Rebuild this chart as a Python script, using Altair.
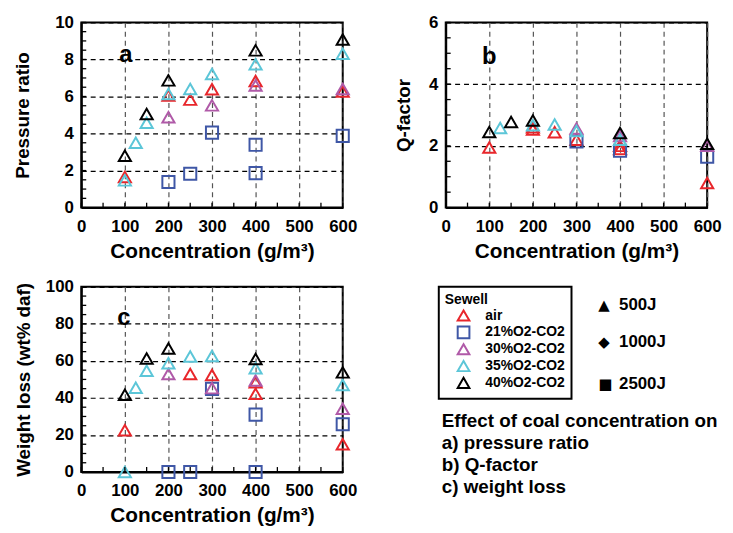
import altair as alt
import pandas as pd

FONT = "Liberation Sans"

SERIES = ["air", "21%O2-CO2", "30%O2-CO2", "35%O2-CO2", "40%O2-CO2"]
COLORS = ["#e8262b", "#3f57a6", "#b05aa8", "#5cc6d8", "#000000"]
SHAPES = ["triangle-up", "square", "triangle-up", "triangle-up", "triangle-up"]

X_LABELS = [0, 100, 200, 300, 400, 500, 600]
X_TICKS = [0, 50, 100, 150, 200, 250, 300, 350, 400, 450, 500, 550, 600]
X_TITLE = "Concentration (g/m³)"

# ---- panel a: pressure ratio ----
A_AIR_X = [100, 200, 250, 300, 400, 600]
A_AIR_Y = [1.65, 6.05, 5.83, 6.39, 6.84, 6.27]
A_21_X = [200, 250, 300, 400, 400, 600]
A_21_Y = [1.38, 1.83, 4.05, 3.39, 1.86, 3.87]
A_30_X = [200, 300, 400, 600]
A_30_Y = [4.88, 5.52, 6.59, 6.41]
A_35_X = [100, 125, 150, 200, 250, 300, 400, 600]
A_35_Y = [1.47, 3.5, 4.58, 6.13, 6.41, 7.21, 7.74, 8.31]
A_40_X = [100, 150, 200, 400, 600]
A_40_Y = [2.8, 5.06, 6.87, 8.49, 9.08]
A_Y_LABELS = [0, 2, 4, 6, 8, 10]
A_Y_TICKS = [0, 0.5, 1, 1.5, 2, 2.5, 3, 3.5, 4, 4.5, 5, 5.5, 6, 6.5, 7, 7.5, 8, 8.5, 9, 9.5, 10]

# ---- panel b: Q-factor ----
B_AIR_X = [100, 200, 200, 250, 300, 400, 400, 600]
B_AIR_Y = [1.95, 2.53, 2.6, 2.44, 2.2, 2.0, 1.9, 0.8]
B_21_X = [300, 400, 600]
B_21_Y = [2.14, 1.84, 1.65]
B_30_X = [300, 400, 600]
B_30_Y = [2.56, 2.32, 2.0]
B_35_X = [125, 200, 250, 300, 400]
B_35_Y = [2.58, 2.67, 2.69, 2.48, 2.2]
B_40_X = [100, 150, 200, 400, 600]
B_40_Y = [2.45, 2.77, 2.82, 2.42, 2.07]
B_Y_LABELS = [0, 2, 4, 6]
B_Y_TICKS = [0, 0.5, 1, 1.5, 2, 2.5, 3, 3.5, 4, 4.5, 5, 5.5, 6]

# ---- panel c: weight loss ----
C_AIR_X = [100, 250, 300, 400, 400, 600]
C_AIR_Y = [22.6, 52.9, 52.4, 48.5, 42.2, 15.0]
C_21_X = [200, 250, 300, 400, 400, 600]
C_21_Y = [0, 0, 44.9, 31.0, 0, 25.8]
C_30_X = [200, 300, 400, 600]
C_30_Y = [52.9, 45.3, 49.4, 34.2]
C_35_X = [100, 125, 150, 200, 250, 300, 400, 600]
C_35_Y = [0, 45.5, 54.7, 58.7, 62.4, 62.7, 56.0, 47.0]
C_40_X = [100, 150, 200, 400, 600]
C_40_Y = [41.7, 61.3, 66.7, 61.0, 53.8]
C_Y_LABELS = [0, 20, 40, 60, 80, 100]
C_Y_TICKS = [0, 5, 10, 15, 20, 25, 30, 35, 40, 45, 50, 55, 60, 65, 70, 75, 80, 85, 90, 95, 100]

ENERGY_SYMBOLS = ["▲", "◆", "■"]
ENERGY_LABELS = ["500J", "1000J", "2500J"]
ENERGY_ROWS_Y = [18, 56, 98]
NOTE_LINES = ["Effect of coal concentration on", "a) pressure ratio", "b) Q-factor", "c) weight loss"]

W, H = 264, 187


def frame(parts):
    rows = []
    for name, xs, ys in parts:
        for xv, yv in zip(xs, ys):
            rows.append({"series": name, "conc": xv, "val": yv})
    return pd.DataFrame(rows)


DF_A = frame([(SERIES[0], A_AIR_X, A_AIR_Y), (SERIES[1], A_21_X, A_21_Y), (SERIES[2], A_30_X, A_30_Y),
              (SERIES[3], A_35_X, A_35_Y), (SERIES[4], A_40_X, A_40_Y)])
DF_B = frame([(SERIES[0], B_AIR_X, B_AIR_Y), (SERIES[1], B_21_X, B_21_Y), (SERIES[2], B_30_X, B_30_Y),
              (SERIES[3], B_35_X, B_35_Y), (SERIES[4], B_40_X, B_40_Y)])
DF_C = frame([(SERIES[0], C_AIR_X, C_AIR_Y), (SERIES[1], C_21_X, C_21_Y), (SERIES[2], C_30_X, C_30_Y),
              (SERIES[3], C_35_X, C_35_Y), (SERIES[4], C_40_X, C_40_Y)])

LEGEND = alt.Legend(
    title="Sewell", orient="none", legendX=361, legendY=267,
    strokeColor="black", padding=6, fillColor="white",
    titleFontSize=14, titleFontWeight="bold", titleFont=FONT, titleColor="black", titlePadding=2,
    labelFontSize=14, labelFontWeight="bold", labelFont=FONT, labelColor="black",
    labelOffset=15, symbolOffset=12, symbolSize=140, symbolStrokeWidth=2, rowPadding=-3,
)


def panel(df, ydom, ylabels, yticks, ytitle, tpad, letter, lx, ly):
    xs = alt.Scale(domain=[0, 600], nice=False, zero=False)
    ys = alt.Scale(domain=ydom, nice=False, zero=False)
    xax = alt.Axis(values=X_LABELS, title=X_TITLE, format="d")
    yax = alt.Axis(values=ylabels, title=ytitle, titlePadding=tpad, format="d")
    pts = alt.Chart(df).mark_point(filled=False, size=150, strokeWidth=2, opacity=1).encode(
        x=alt.X("conc:Q", scale=xs, axis=xax),
        y=alt.Y("val:Q", scale=ys, axis=yax),
        color=alt.Color("series:N", scale=alt.Scale(domain=SERIES, range=COLORS), legend=LEGEND),
        shape=alt.Shape("series:N", scale=alt.Scale(domain=SERIES, range=SHAPES), legend=LEGEND),
    )
    xt = alt.Chart(pd.DataFrame({"conc": X_TICKS})).mark_rule(color="black", strokeWidth=1.3).encode(
        x=alt.X("conc:Q", scale=xs, axis=xax), y=alt.value(H), y2=alt.value(H - 5))
    yt = alt.Chart(pd.DataFrame({"val": yticks})).mark_rule(color="black", strokeWidth=1.3).encode(
        y=alt.Y("val:Q", scale=ys, axis=yax), x=alt.value(0), x2=alt.value(5))
    txt = alt.Chart(pd.DataFrame({"t": [letter]})).mark_text(
        fontSize=24, fontWeight="bold", font=FONT, color="black").encode(
        x=alt.value(lx), y=alt.value(ly), text="t:N")
    return alt.layer(pts, xt, yt, txt).properties(width=W, height=H)


pa = panel(DF_A, [0, 10], A_Y_LABELS, A_Y_TICKS, "Pressure ratio", 22, "a", 45, 33)
pb = panel(DF_B, [0, 6], B_Y_LABELS, B_Y_TICKS, "Q-factor", 15, "b", 44, 35)
pc = panel(DF_C, [0, 100], C_Y_LABELS, C_Y_TICKS, "Weight loss (wt% daf)", 12, "c", 43, 32)

layers = []
for sym, lab, yy in zip(ENERGY_SYMBOLS, ENERGY_LABELS, ENERGY_ROWS_Y):
    layers.append(alt.Chart(pd.DataFrame({"t": [sym]})).mark_text(
        align="left", baseline="middle", fontSize=15, font="DejaVu Sans", color="black").encode(
        x=alt.value(154), y=alt.value(yy), text="t:N"))
    layers.append(alt.Chart(pd.DataFrame({"t": [lab]})).mark_text(
        align="left", baseline="middle", fontSize=17, fontWeight="bold", font=FONT, color="black").encode(
        x=alt.value(175), y=alt.value(yy), text="t:N"))
for i, line in enumerate(NOTE_LINES):
    layers.append(alt.Chart(pd.DataFrame({"t": [line]})).mark_text(
        align="left", baseline="middle", fontSize=19, fontWeight="bold", font=FONT, color="black").encode(
        x=alt.value(-4), y=alt.value(136 + 22 * i), text="t:N"))
pd_cell = alt.layer(*layers).properties(width=W, height=H, view=alt.ViewBackground(stroke="transparent"))

chart = alt.concat(pa, pb, pc, pd_cell, columns=2, bounds="flush",
                   spacing=alt.RowColnumber(row=80, column=104)).properties(
    padding={"left": 5, "top": 2, "right": 2, "bottom": 0}
).configure(font=FONT).configure_view(stroke="black", strokeWidth=2).configure_axis(
    labelFont=FONT, titleFont=FONT, labelFontWeight="bold", titleFontWeight="bold",
    labelColor="black", titleColor="black", labelFontSize=17, domainColor="black", domainWidth=2,
    ticks=False, grid=True, gridDash=[5, 4], gridWidth=1.2, labelOverlap=False, labelFlush=False,
).configure_axisX(
    labelPadding=11, titlePadding=6, titleFontSize=21, gridColor="#555555"
).configure_axisY(
    labelPadding=8, titleFontSize=19, gridColor="black"
).configure_legend(strokeWidth=2)

chart.save("out.html", embed_options={"renderer": "svg", "actions": False})
